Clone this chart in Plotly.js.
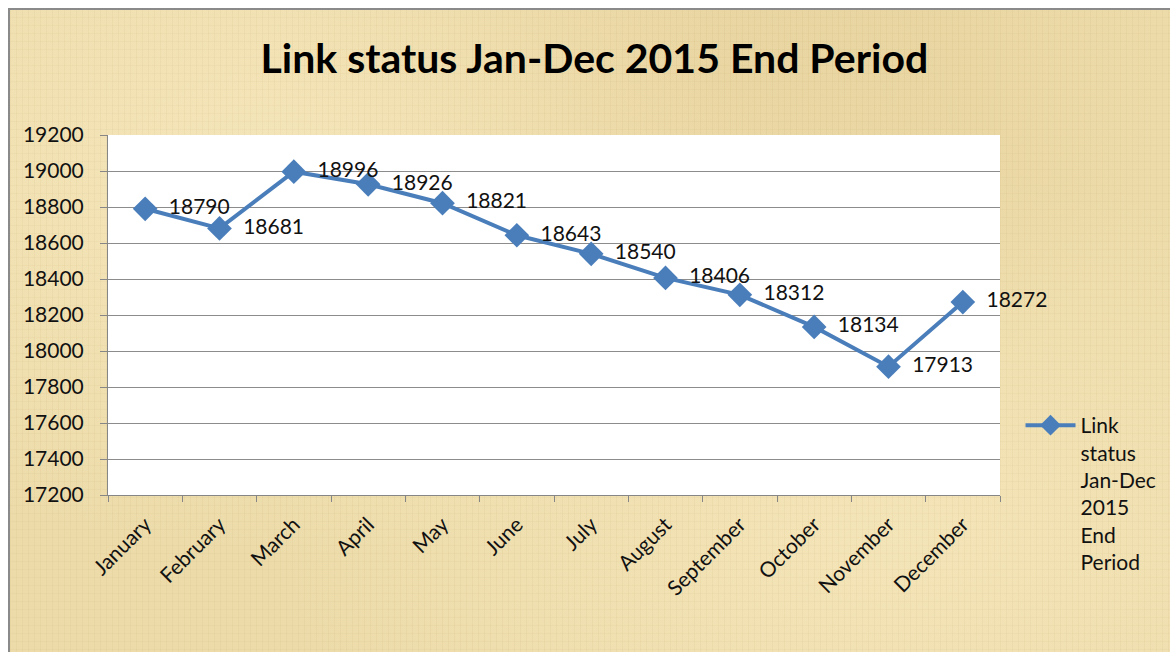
<!DOCTYPE html>
<html>
<head>
<meta charset="utf-8">
<script src="https://cdn.plot.ly/plotly-3.0.1.min.js"></script>
<style>
  html, body { margin: 0; padding: 0; width: 1170px; height: 652px; overflow: hidden; background: #ffffff; }
  #bg {
    position: absolute; left: 8px; top: 8px; width: 1180px; height: 660px;
    border: 2px solid #8a8a8a; box-sizing: border-box;
    background-color: #ebd9a6;
    background-image:
      repeating-linear-gradient(90deg, rgba(175,145,85,0.06) 0px, rgba(175,145,85,0.06) 1px, rgba(255,245,210,0.05) 1px, rgba(255,245,210,0.05) 6px),
      repeating-linear-gradient(0deg, rgba(175,145,85,0.05) 0px, rgba(175,145,85,0.05) 1px, rgba(255,245,210,0.04) 1px, rgba(255,245,210,0.04) 8px),
      radial-gradient(ellipse at 25% 25%, rgba(255,242,205,0.45), rgba(255,242,205,0) 55%),
      radial-gradient(ellipse at 75% 80%, rgba(255,242,205,0.40), rgba(255,242,205,0) 50%),
      radial-gradient(ellipse at 60% 10%, rgba(205,170,100,0.25), rgba(205,170,100,0) 45%);
  }
  #chart { position: absolute; left: 0; top: 0; width: 1170px; height: 652px; }
</style>
</head>
<body>
<div id="bg"></div>
<div id="chart"></div>
<script>
const months = ["January","February","March","April","May","June","July","August","September","October","November","December"];
const linkStatus = [18790, 18681, 18996, 18926, 18821, 18643, 18540, 18406, 18312, 18134, 17913, 18272];
const yTicks = [17200, 17400, 17600, 17800, 18000, 18200, 18400, 18600, 18800, 19000, 19200];
const seriesName = "Link<br>status<br>Jan-Dec<br>2015<br>End<br>Period";
const chartTitle = "Link status Jan-Dec 2015 End Period";

const FONT = "Lato, 'Open Sans', sans-serif";

const trace = {
  x: months,
  y: linkStatus,
  type: "scatter",
  mode: "lines+markers+text",
  name: seriesName,
  text: linkStatus.map(String),
  texttemplate: "  %{text}",
  textposition: "middle right",
  textfont: { family: FONT, size: 21, color: "#111111" },
  line: { color: "#4A7EBB", width: 4 },
  marker: { symbol: "diamond", size: 19, color: "#4A7EBB" },
  cliponaxis: false,
  showlegend: true
};

const layout = {
  width: 1170,
  height: 652,
  paper_bgcolor: "rgba(0,0,0,0)",
  plot_bgcolor: "#ffffff",
  margin: { l: 108, r: 170, t: 135, b: 157, autoexpand: false },
  title: {
    text: "<b>" + chartTitle + "</b>",
    font: { family: FONT, size: 41, color: "#000000" },
    x: 0.508, xanchor: "center",
    y: 0.91, yanchor: "middle"
  },
  xaxis: {
    type: "category",
    range: [-0.5, 11.5],
    tickangle: -45,
    tickfont: { family: FONT, size: 21, color: "#111111" },
    ticklabelstandoff: 8,
    showgrid: false,
    showline: true,
    linecolor: "#868686",
    linewidth: 1,
    ticks: "outside",
    tickson: "boundaries",
    ticklen: 6,
    tickcolor: "#868686",
    zeroline: false
  },
  yaxis: {
    range: [17200, 19200],
    tickvals: yTicks,
    ticktext: yTicks.map(String),
    tickfont: { family: FONT, size: 21, color: "#111111" },
    ticklabelstandoff: 12,
    showgrid: true,
    gridcolor: "#8c8c8c",
    gridwidth: 1,
    showline: true,
    linecolor: "#868686",
    linewidth: 1,
    ticks: "outside",
    ticklen: 7,
    tickcolor: "#868686",
    zeroline: false
  },
  showlegend: true,
  legend: {
    x: 1.023, xanchor: "left",
    y: 0.25, yanchor: "top",
    bgcolor: "rgba(0,0,0,0)",
    font: { family: FONT, size: 21, color: "#111111" },
    valign: "top",
    itemwidth: 50
  }
};

Plotly.newPlot("chart", [trace], layout, { displayModeBar: false, staticPlot: true });
</script>
</body>
</html>
